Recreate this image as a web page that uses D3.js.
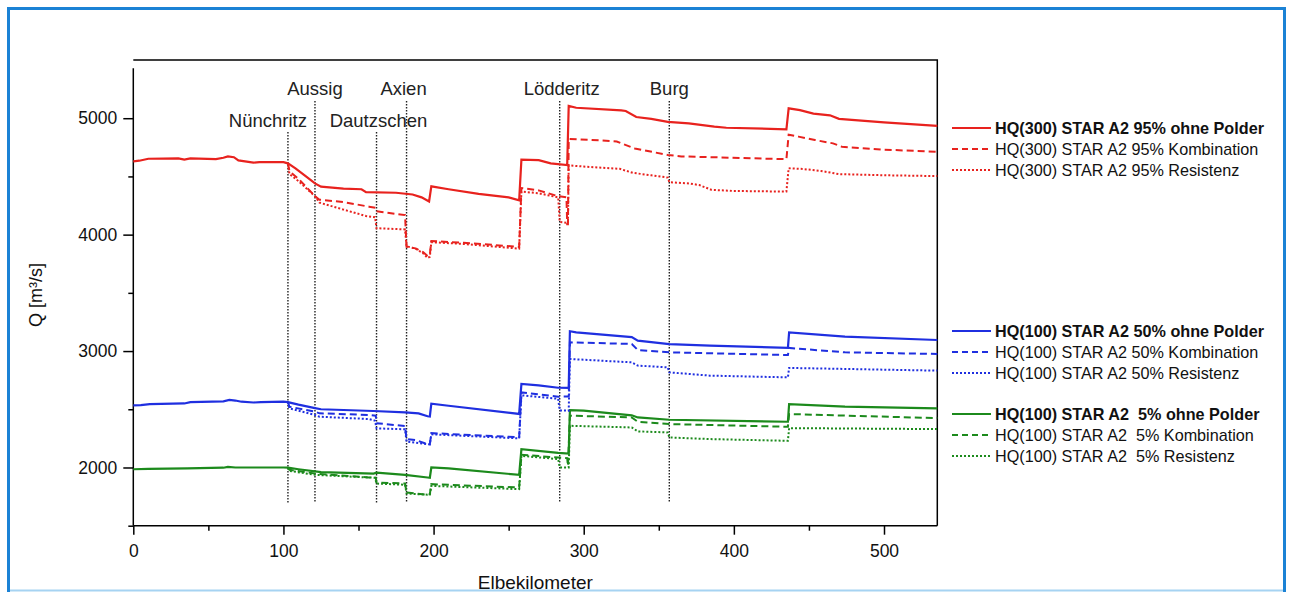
<!DOCTYPE html>
<html>
<head>
<meta charset="utf-8">
<script src="https://cdn.jsdelivr.net/npm/d3@7"></script>
<style>
  body { margin: 0; background: #fff; }
</style>
</head>
<body>
<div class="elbe_chart"></div>
<script>
// Elbe discharge scenarios, [km, Q]
var hq300_ohne = [[0,4630],[4,4635],[10,4652],[30,4655],[34,4645],[38,4655],[55,4648],[60,4660],[63,4672],[67,4665],[70,4638],[80,4618],[84,4622],[100,4622],[103,4612],[108,4570],[115,4500],[121,4440],[125,4412],[140,4395],[152,4390],[155,4365],[175,4360],[186,4345],[192,4320],[197,4285],[198.5,4415],[210,4390],[230,4350],[250,4320],[257,4295],[258.5,4645],[270,4640],[278,4612],[289,4598],[290,5105],[295,5090],[325,5068],[328,5062],[335,5010],[345,4995],[356,4968],[370,4955],[387,4927],[395,4918],[435,4905],[436.5,5085],[444,5070],[453,5040],[464,5025],[470,4995],[500,4965],[535.5,4935]];
var hq300_komb = [[103,4612],[104,4545],[110,4480],[121,4330],[124,4300],[140,4280],[157,4240],[161.5,4230],[162,4200],[181,4168],[182,3895],[188,3882],[193,3850],[196,3816],[197.5,3830],[198.5,3945],[220,3930],[257,3895],[258.5,4400],[270,4380],[283,4330],[288.5,4320],[289,4090],[289.5,4090],[290,4822],[310,4810],[322,4800],[326,4780],[334,4740],[340,4725],[356,4684],[365,4672],[435,4648],[436.5,4858],[443,4842],[454,4813],[466,4784],[472,4755],[500,4730],[535.5,4712]];
var hq300_res = [[103,4612],[104,4520],[110,4460],[121,4330],[124,4275],[140,4215],[155,4160],[161,4150],[162,4055],[181,4045],[182,3900],[188,3880],[193,3840],[196,3800],[197.5,3810],[198.5,3935],[220,3920],[257,3880],[258.5,4370],[270,4355],[283,4320],[284,4110],[289.5,4100],[290,4595],[300,4585],[324,4565],[333,4530],[345,4510],[356,4490],[357,4450],[370,4440],[377,4426],[385,4385],[400,4375],[435,4370],[436.5,4570],[446,4564],[458,4547],[470,4520],[500,4510],[535.5,4503]];

var hq100_50_ohne = [[0,2534],[5,2536],[11,2545],[34,2550],[38,2562],[60,2568],[64,2580],[68,2575],[72,2565],[80,2558],[85,2562],[100,2565],[103,2562],[110,2540],[121,2510],[125,2500],[160,2485],[181,2474],[190,2465],[196,2440],[197.5,2438],[198.5,2548],[210,2530],[257,2460],[258.5,2717],[270,2705],[283,2685],[290,2683],[290.8,3170],[295,3160],[332,3120],[336,3090],[357,3060],[384,3047],[436,3027],[436.8,3160],[474,3124],[535.5,3095]];
var hq100_50_komb = [[103,2562],[104,2522],[121,2479],[124,2465],[157,2451],[161.5,2445],[162,2380],[181,2356],[182,2244],[188,2236],[196,2200],[197.5,2200],[198.5,2295],[257,2260],[258.5,2645],[283,2608],[290,2610],[290.8,3075],[332,3061],[336,3009],[357,2989],[436,2966],[436.8,3027],[474,2989],[535.5,2975]];
var hq100_50_res = [[103,2562],[104,2508],[121,2451],[124,2436],[157,2416],[161,2402],[162,2336],[181,2328],[182,2222],[196,2200],[197.5,2198],[198.5,2285],[257,2250],[258.5,2620],[283,2590],[284,2490],[290,2488],[290.8,2932],[332,2903],[336,2875],[356,2860],[357,2817],[384,2789],[436,2774],[436.8,2855],[535.5,2832]];

var hq100_5_ohne = [[0,1985],[10,1988],[36,1992],[60,1998],[63,2005],[68,2000],[100,2000],[103,1998],[110,1985],[125,1960],[160,1948],[162,1955],[181,1937],[196,1914],[197.5,1912],[198.5,2000],[210,1992],[257,1937],[258.5,2158],[283,2125],[290,2120],[290.8,2493],[300,2488],[332,2448],[336,2430],[357,2410],[436,2393],[436.8,2545],[474,2522],[535.5,2508]];
var hq100_5_komb = [[103,1998],[104,1980],[121,1948],[157,1914],[161.5,1912],[162,1871],[181,1862],[182,1785],[196,1766],[197.5,1770],[198.5,1857],[257,1828],[258.5,2109],[283,2086],[289,2080],[289.5,2014],[290.8,2445],[332,2430],[336,2393],[357,2373],[436,2350],[436.8,2459],[535.5,2424]];
var hq100_5_res = [[103,1998],[104,1971],[121,1937],[157,1914],[161,1912],[162,1862],[181,1852],[182,1777],[196,1766],[197.5,1768],[198.5,1842],[257,1814],[258.5,2100],[283,2072],[284,2000],[290,2000],[290.8,2358],[332,2344],[336,2310],[356,2301],[357,2258],[384,2244],[436,2229],[436.8,2338],[535.5,2330]];

var stations = ["Nünchritz", "Aussig", "Dautzschen", "Axien", "Lödderitz", "Burg"];
var station_km = [103, 121, 162, 182, 284, 357];

var legend_labels = [
    "HQ(300) STAR A2 95% ohne Polder", "HQ(300) STAR A2 95% Kombination", "HQ(300) STAR A2 95% Resistenz",
    "HQ(100) STAR A2 50% ohne Polder", "HQ(100) STAR A2 50% Kombination", "HQ(100) STAR A2 50% Resistenz",
    "HQ(100) STAR A2  5% ohne Polder", "HQ(100) STAR A2  5% Kombination", "HQ(100) STAR A2  5% Resistenz"
];

var x_ticks = [0, 100, 200, 300, 400, 500];
var x_minor = [50, 150, 250, 350, 450];
var y_ticks = [2000, 3000, 4000, 5000];
var y_minor = [1500, 2500, 3500, 4500];

var font = "'Liberation Sans', Arial, sans-serif";
var red = "#e8221e", blue = "#1f2fe0", green = "#1c8a1c";

var svg = d3.select(".elbe_chart")
    .append("svg")
    .attr("width", 1289)
    .attr("height", 592)

// blue frame round the figure
svg.append("rect")
    .attr("x", 8.5)
    .attr("y", 8.5)
    .attr("width", 1276)
    .attr("height", 620)
    .style("fill", "none")
    .style("stroke", "#1b82d5")
    .style("stroke-width", 3)

svg.append("line")
    .attr("x1", 10).attr("y1", 590.5)
    .attr("x2", 1283).attr("y2", 590.5)
    .style("stroke", "#a6d3f2")
    .style("stroke-width", 2)

var x = d3.scaleLinear().domain([0, 535.5]).range([133.3, 937.3]);
var y = d3.scaleLinear().domain([1500, 5500]).range([525.7, 60]);

// frame: top and right
svg.append("path")
    .attr("d", "M" + x(0) + "," + y(5500) + "H" + x(535.5) + "V" + y(1500))
    .style("fill", "none")
    .style("stroke", "black")
    .style("stroke-width", 1.5)

// axes
var gx = svg.append("g").attr("transform", "translate(0," + y(1500) + ")");
gx.call(d3.axisBottom(x).tickValues(x_ticks).tickSize(9).tickPadding(10).tickFormat(d3.format("d")));
gx.append("g").call(d3.axisBottom(x).tickValues(x_minor).tickSize(5).tickFormat(""));

var gy = svg.append("g").attr("transform", "translate(" + x(0) + ",0)");
gy.call(d3.axisLeft(y).tickValues(y_ticks).tickSize(10).tickPadding(6).tickFormat(d3.format("d")));
gy.append("g").call(d3.axisLeft(y).tickValues(y_minor).tickSize(5).tickFormat(""));

svg.selectAll(".domain").remove();
svg.selectAll(".tick line").style("stroke", "black").style("stroke-width", 1.5);
svg.selectAll(".tick text")
    .style("font-family", font)
    .style("font-size", "17.5px")
    .style("fill", "#111")

svg.append("line")
    .attr("x1", x(0)).attr("y1", y(5430))
    .attr("x2", x(0)).attr("y2", y(1500))
    .style("stroke", "black")
    .style("stroke-width", 1.5)
svg.append("line")
    .attr("x1", x(0)).attr("y1", y(1500))
    .attr("x2", x(535.5)).attr("y2", y(1500))
    .style("stroke", "black")
    .style("stroke-width", 1.5)

svg.append("text")
    .attr("x", x(267.75))
    .attr("y", 589)
    .attr("text-anchor", "middle")
    .text("Elbekilometer")
    .style("font-family", font)
    .style("font-size", "19px")
    .style("fill", "#111")

svg.append("text")
    .attr("transform", "translate(42,295) rotate(-90)")
    .attr("text-anchor", "middle")
    .text("Q [m³/s]")
    .style("font-family", font)
    .style("font-size", "18px")
    .style("fill", "#111")

// station markers
var label_row = [1, 0, 1, 0, 0, 0];
var label_dx = [-20, 0, 2, -3, 2, 0];
for (var i = 0; i < stations.length; i++) {
    svg.append("line")
        .attr("x1", x(station_km[i])).attr("x2", x(station_km[i]))
        .attr("y1", label_row[i] ? 132 : 101)
        .attr("y2", y(1700))
        .style("stroke", "#222")
        .style("stroke-width", 1.4)
        .style("stroke-dasharray", "1.5,1.5")

    svg.append("text")
        .attr("x", x(station_km[i]) + label_dx[i])
        .attr("y", label_row[i] ? 127 : 95)
        .attr("text-anchor", "middle")
        .text(stations[i])
        .style("font-family", font)
        .style("font-size", "18.5px")
        .style("fill", "#222")
}

// series
var line = d3.line().x(function (d) { return x(d[0]); }).y(function (d) { return y(d[1]); });
var series = [hq300_ohne, hq300_komb, hq300_res, hq100_50_ohne, hq100_50_komb, hq100_50_res, hq100_5_ohne, hq100_5_komb, hq100_5_res];
var colors = [red, red, red, blue, blue, blue, green, green, green];
var dashes = ["none", "7,4", "2,2"];

for (var i = series.length - 1; i >= 0; i--) {
    svg.append("path")
        .attr("d", line(series[i]))
        .style("fill", "none")
        .style("stroke", colors[i])
        .style("stroke-width", i % 3 == 0 ? 2.2 : 2)
        .style("stroke-dasharray", dashes[i % 3])
}

// legend
var legend_y = [128, 149, 170, 331, 352, 373, 414, 435, 456];
for (var i = 0; i < legend_labels.length; i++) {
    svg.append("line")
        .attr("x1", 952).attr("x2", 991)
        .attr("y1", legend_y[i]).attr("y2", legend_y[i])
        .style("stroke", colors[i])
        .style("stroke-width", 2)
        .style("stroke-dasharray", i % 3 == 1 ? "6,4" : dashes[i % 3])

    svg.append("text")
        .attr("x", 995)
        .attr("y", legend_y[i])
        .attr("dy", "0.36em")
        .text(legend_labels[i])
        .style("font-family", font)
        .style("font-size", "16.2px")
        .style("font-weight", i % 3 == 0 ? "bold" : "normal")
        .style("white-space", "pre")
        .style("fill", "#111")
}
</script>
</body>
</html>
